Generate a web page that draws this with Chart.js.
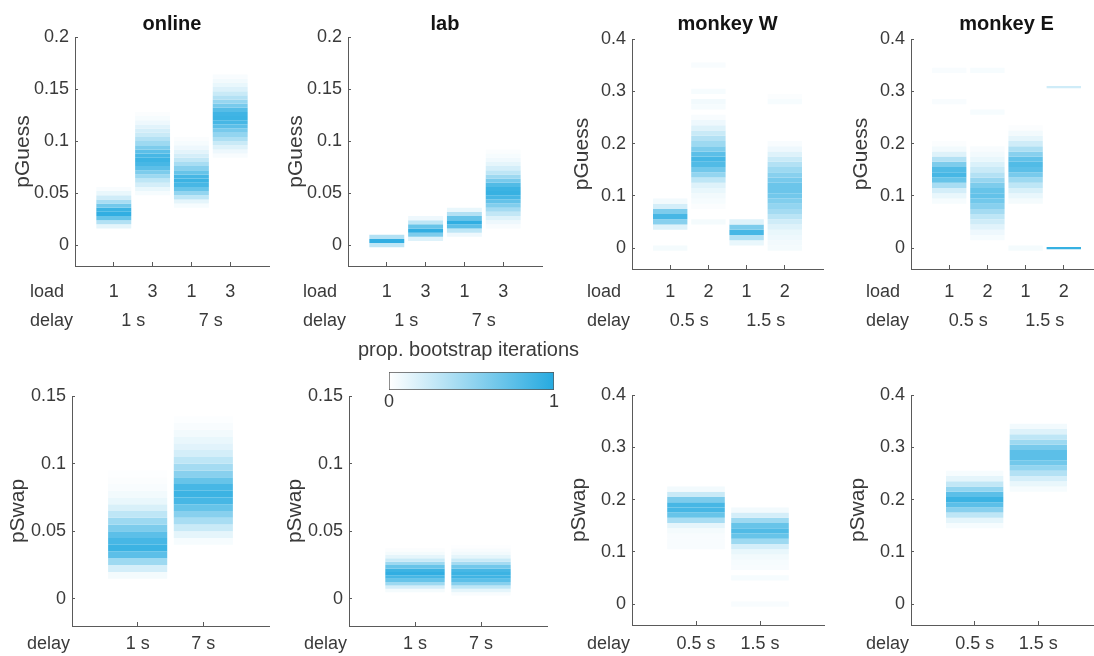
<!DOCTYPE html>
<html>
<head>
<meta charset="utf-8">
<script src="https://cdn.jsdelivr.net/npm/chart.js@4.4.1/dist/chart.umd.min.js"></script>
<style>
  html, body { margin: 0; padding: 0; background: #fff; overflow: hidden; }
  #fig { position: relative; width: 1094px; height: 656px; overflow: hidden; background: #fff; }
  #fig canvas { position: absolute; }
</style>
</head>
<body>
<div id="fig"></div>
<script>
// ---- labels ----
var titles = ["online", "lab", "monkey W", "monkey E"];
var loadsHuman = ["1", "3", "1", "3"];
var loadsMonkey = ["1", "2", "1", "2"];
var delaysHuman = ["1 s", "7 s"];
var delaysMonkey = ["0.5 s", "1.5 s"];

// x positions of the conditions
var guessX = [1, 2, 3, 4];
var guessDelayX = [1.5, 3.5];
var swapX = [1, 2];

// y ticks
var ticksSmall = [0, 0.05, 0.1, 0.15, 0.2];
var ticksSmallLabels = ["0", "0.05", "0.1", "0.15", "0.2"];
var ticksLarge = [0, 0.1, 0.2, 0.3, 0.4];
var ticksLargeLabels = ["0", "0.1", "0.2", "0.3", "0.4"];
var ticksSwap = [0, 0.05, 0.1, 0.15];
var ticksSwapLabels = ["0", "0.05", "0.1", "0.15"];

// ---- bootstrap histograms: bin width, lowest bin edge per condition, proportion per bin ----
var onlineGuessBin = 0.004;
var onlineGuessStart = [0.016, 0.048, 0.036, 0.084];
var onlineGuessDens = [
  [0.12, 0.35, 0.7, 0.95, 0.9, 0.65, 0.4, 0.22, 0.1, 0.03],
  [0.04, 0.1, 0.2, 0.3, 0.45, 0.6, 0.75, 0.85, 0.9, 0.85, 0.75, 0.6, 0.45, 0.35, 0.25, 0.2, 0.14, 0.08, 0.04, 0.02],
  [0.04, 0.12, 0.3, 0.5, 0.7, 0.85, 0.9, 0.85, 0.7, 0.55, 0.4, 0.28, 0.2, 0.13, 0.08, 0.04, 0.02],
  [0.03, 0.08, 0.15, 0.25, 0.38, 0.5, 0.62, 0.75, 0.85, 0.9, 0.88, 0.78, 0.62, 0.48, 0.35, 0.25, 0.16, 0.1, 0.06, 0.03]
];

var labGuessBin = 0.004;
var labGuessStart = [-0.002, 0.004, 0.008, 0.016];
var labGuessDens = [
  [0.3, 0.95, 0.35],
  [0.15, 0.6, 0.95, 0.7, 0.3, 0.08],
  [0.08, 0.3, 0.75, 0.95, 0.7, 0.35, 0.1],
  [0.03, 0.08, 0.15, 0.28, 0.42, 0.58, 0.72, 0.85, 0.92, 0.9, 0.8, 0.62, 0.45, 0.3, 0.2, 0.12, 0.07, 0.04, 0.02]
];

var monkeyWGuessBin = 0.01;
var monkeyWGuessStart = [-0.005, 0.045, 0.005, -0.005];
var monkeyWGuessDens = [
  [0.05, 0, 0, 0, 0.15, 0.55, 0.85, 0.6, 0.2, 0.06],
  [0.05, 0, 0, 0.02, 0.04, 0.06, 0.1, 0.15, 0.3, 0.5, 0.65, 0.8, 0.85, 0.75, 0.6, 0.45, 0.35, 0.25, 0.15, 0.08, 0.03, 0, 0.04, 0.06, 0, 0.04, 0, 0, 0, 0, 0.03],
  [0.1, 0.35, 0.85, 0.6, 0.15],
  [0.05, 0.06, 0.08, 0.1, 0.15, 0.22, 0.32, 0.42, 0.5, 0.58, 0.65, 0.68, 0.68, 0.62, 0.55, 0.45, 0.35, 0.25, 0.15, 0.08, 0.03, 0, 0, 0, 0, 0, 0, 0, 0.04, 0.02]
];

// monkey E, load 2 at 1.5 s is two thin lines (at 0 and near 0.31), kept as separate entries
var monkeyEGuessX = [1, 2, 3, 4, 4];
var monkeyEGuessBin = [0.01, 0.01, 0.01, 0.004, 0.004];
var monkeyEGuessStart = [0.085, 0.015, -0.005, -0.002, 0.306];
var monkeyEGuessDens = [
  [0.04, 0.1, 0.2, 0.4, 0.7, 0.85, 0.8, 0.6, 0.35, 0.15, 0.06, 0.02, 0, 0, 0, 0, 0, 0, 0, 0.03, 0, 0, 0, 0, 0, 0.03],
  [0.04, 0.08, 0.14, 0.22, 0.3, 0.42, 0.55, 0.65, 0.72, 0.7, 0.6, 0.48, 0.35, 0.25, 0.17, 0.1, 0.06, 0.03, 0, 0, 0, 0, 0, 0, 0.04, 0, 0, 0, 0, 0, 0, 0, 0.04],
  [0.05, 0, 0, 0, 0, 0, 0, 0, 0, 0.05, 0.1, 0.18, 0.3, 0.45, 0.62, 0.75, 0.8, 0.72, 0.55, 0.38, 0.22, 0.12, 0.06, 0.02],
  [0.92],
  [0.22]
];

var onlineSwapBin = 0.005;
var onlineSwapStart = [0.015, 0.04];
var onlineSwapDens = [
  [0.05, 0.2, 0.45, 0.75, 0.9, 0.85, 0.75, 0.6, 0.45, 0.3, 0.18, 0.1, 0.06, 0.03, 0.02, 0.01],
  [0.04, 0.12, 0.25, 0.4, 0.55, 0.7, 0.85, 0.9, 0.85, 0.7, 0.55, 0.42, 0.3, 0.2, 0.14, 0.1, 0.06, 0.03, 0.015]
];

var labSwapBin = 0.0025;
var labSwapStart = [0.005, 0.0025];
var labSwapDens = [
  [0.05, 0.2, 0.45, 0.7, 0.85, 0.95, 0.9, 0.7, 0.45, 0.25, 0.12, 0.05, 0.02],
  [0.03, 0.12, 0.3, 0.55, 0.75, 0.88, 0.9, 0.85, 0.65, 0.42, 0.25, 0.12, 0.06, 0.03, 0.01]
];

var monkeyWSwapBin = 0.01;
var monkeyWSwapStart = [0.105, -0.005];
var monkeyWSwapDens = [
  [0.03, 0.03, 0.03, 0.05, 0.12, 0.4, 0.7, 0.85, 0.85, 0.6, 0.25, 0.06],
  [0.03, 0, 0, 0, 0, 0.04, 0, 0.03, 0.04, 0.06, 0.1, 0.2, 0.45, 0.7, 0.8, 0.7, 0.45, 0.2, 0.06]
];

var monkeyESwapBin = 0.01;
var monkeyESwapStart = [0.145, 0.215];
var monkeyESwapDens = [
  [0.04, 0.12, 0.3, 0.55, 0.75, 0.9, 0.75, 0.5, 0.28, 0.12, 0.04],
  [0.04, 0.1, 0.2, 0.35, 0.5, 0.65, 0.75, 0.75, 0.62, 0.45, 0.3, 0.15, 0.06]
];

// ---- styling ----
var FONT = "'Liberation Sans', Arial, Helvetica, sans-serif";
var textColor = "#3a3a3a";
var axisColor = "#5a5a5a";
var blue = [38, 170, 224];

function shade(d) {
  var c = blue.map(function (v) { return Math.round(255 + (v - 255) * d); });
  return "rgb(" + c.join(",") + ")";
}

function histDatasets(xs, bin, starts, dens) {
  return xs.map(function (x, k) {
    var b = Array.isArray(bin) ? bin[k] : bin;
    var pts = [], cols = [];
    dens[k].forEach(function (d, i) {
      if (d <= 0) return;
      var lo = starts[k] + i * b;
      pts.push({ x: x, y: [lo, lo + b] });
      cols.push(shade(d));
    });
    return {
      data: pts,
      backgroundColor: cols,
      borderWidth: 0,
      grouped: false,
      barPercentage: 0.9,
      categoryPercentage: 1
    };
  });
}

// text drawn around each panel: title, y label, x rows
var panelText = {
  id: "panelText",
  afterDraw: function (chart, args, o) {
    var ctx = chart.ctx, a = chart.chartArea, xs = chart.scales.x;
    ctx.save();
    if (o.title) {
      ctx.fillStyle = "#141414";
      ctx.font = "bold 20px " + FONT;
      ctx.textAlign = "center";
      ctx.textBaseline = "alphabetic";
      ctx.fillText(o.title, (a.left + a.right) / 2, o.titleBase);
    }
    ctx.fillStyle = textColor;
    ctx.save();
    ctx.translate(a.left - o.ylabelOff, (a.top + a.bottom) / 2);
    ctx.rotate(-Math.PI / 2);
    ctx.font = "21px " + FONT;
    ctx.textAlign = "center";
    ctx.textBaseline = "middle";
    ctx.fillText(o.ylabel, 0, 0);
    ctx.restore();
    ctx.font = "18px " + FONT;
    ctx.textBaseline = "alphabetic";
    o.rows.forEach(function (r) {
      ctx.textAlign = "left";
      ctx.fillText(r.head, a.left - 45, r.base);
      ctx.textAlign = "center";
      r.pos.forEach(function (v, i) {
        ctx.fillText(r.text[i], xs.getPixelForValue(v), r.base);
      });
    });
    ctx.restore();
  }
};

var fig = document.getElementById("fig");

function makePanel(p) {
  var padL = 75, padR = 6;
  var cv = document.createElement("canvas");
  var w = padL + (p.R - p.L) + padR;
  var h = p.rowH;
  cv.width = w;
  cv.height = h;
  cv.style.left = (p.L - padL) + "px";
  cv.style.top = p.rowTop + "px";
  cv.style.width = w + "px";
  cv.style.height = h + "px";
  fig.appendChild(cv);
  var padT = p.T - p.rowTop;
  var padB = p.rowTop + h - p.B;
  var rows = p.rows.map(function (r) {
    return { head: r.head, pos: r.pos, text: r.text, base: r.base - p.rowTop };
  });
  return new Chart(cv, {
    type: "bar",
    data: { datasets: histDatasets(p.xs, p.bin, p.starts, p.dens) },
    options: {
      responsive: false,
      animation: false,
      events: [],
      layout: { padding: { top: padT, right: padR, left: 0, bottom: 0 } },
      plugins: {
        legend: { display: false },
        tooltip: { enabled: false },
        panelText: {
          title: p.title,
          titleBase: 29.5 - p.rowTop,
          ylabel: p.ylabel,
          ylabelOff: p.ylabelOff,
          rows: rows
        }
      },
      scales: {
        x: {
          type: "linear",
          min: 0,
          max: p.xMax,
          offset: false,
          afterBuildTicks: function (s) { s.ticks = p.xTicks.map(function (v) { return { value: v }; }); },
          afterFit: function (s) { s.height = padB; },
          ticks: { display: false },
          grid: { offset: false, drawOnChartArea: false, tickLength: -4, color: axisColor, lineWidth: 1 },
          border: { color: axisColor, width: 1 }
        },
        y: {
          min: p.yMin,
          max: p.yMax,
          afterBuildTicks: function (s) { s.ticks = p.yTicks.map(function (v) { return { value: v }; }); },
          afterFit: function (s) { s.width = padL; },
          ticks: {
            callback: function (v, i) { return p.yLabels[i]; },
            color: textColor,
            font: { family: FONT, size: 18 },
            padding: 9,
            autoSkip: false
          },
          grid: { drawOnChartArea: false, tickLength: -3, color: axisColor, lineWidth: 1 },
          border: { color: axisColor, width: 1 }
        }
      }
    },
    plugins: [panelText]
  });
}

function topRows(loads, delays) {
  return [
    { head: "load", pos: guessX, text: loads, base: 296.5 },
    { head: "delay", pos: guessDelayX, text: delays, base: 326 }
  ];
}
function bottomRows(delays) {
  return [{ head: "delay", pos: swapX, text: delays, base: 649 }];
}

var TOP = { rowTop: 0, rowH: 336 };
var BOT = { rowTop: 340, rowH: 316 };

var panels = [
  { row: TOP, L: 75, T: 37, R: 269, B: 266, title: titles[0], ylabel: "pGuess", ylabelOff: 52,
    yMin: -0.02, yMax: 0.2, yTicks: ticksSmall, yLabels: ticksSmallLabels, xMax: 5, xTicks: guessX, xs: guessX,
    bin: onlineGuessBin, starts: onlineGuessStart, dens: onlineGuessDens, rows: topRows(loadsHuman, delaysHuman) },
  { row: TOP, L: 348, T: 37, R: 542, B: 266, title: titles[1], ylabel: "pGuess", ylabelOff: 52,
    yMin: -0.02, yMax: 0.2, yTicks: ticksSmall, yLabels: ticksSmallLabels, xMax: 5, xTicks: guessX, xs: guessX,
    bin: labGuessBin, starts: labGuessStart, dens: labGuessDens, rows: topRows(loadsHuman, delaysHuman) },
  { row: TOP, L: 632, T: 39, R: 823, B: 269, title: titles[2], ylabel: "pGuess", ylabelOff: 50,
    yMin: -0.04, yMax: 0.4, yTicks: ticksLarge, yLabels: ticksLargeLabels, xMax: 5, xTicks: guessX, xs: guessX,
    bin: monkeyWGuessBin, starts: monkeyWGuessStart, dens: monkeyWGuessDens, rows: topRows(loadsMonkey, delaysMonkey) },
  { row: TOP, L: 911, T: 39, R: 1102, B: 269, title: titles[3], ylabel: "pGuess", ylabelOff: 50,
    yMin: -0.04, yMax: 0.4, yTicks: ticksLarge, yLabels: ticksLargeLabels, xMax: 5, xTicks: guessX, xs: monkeyEGuessX,
    bin: monkeyEGuessBin, starts: monkeyEGuessStart, dens: monkeyEGuessDens, rows: topRows(loadsMonkey, delaysMonkey) },
  { row: BOT, L: 72, T: 396, R: 269, B: 626, title: null, ylabel: "pSwap", ylabelOff: 54,
    yMin: -0.02, yMax: 0.15, yTicks: ticksSwap, yLabels: ticksSwapLabels, xMax: 3, xTicks: swapX, xs: swapX,
    bin: onlineSwapBin, starts: onlineSwapStart, dens: onlineSwapDens, rows: bottomRows(delaysHuman) },
  { row: BOT, L: 349, T: 396, R: 547, B: 626, title: null, ylabel: "pSwap", ylabelOff: 54,
    yMin: -0.02, yMax: 0.15, yTicks: ticksSwap, yLabels: ticksSwapLabels, xMax: 3, xTicks: swapX, xs: swapX,
    bin: labSwapBin, starts: labSwapStart, dens: labSwapDens, rows: bottomRows(delaysHuman) },
  { row: BOT, L: 632, T: 395, R: 824, B: 625, title: null, ylabel: "pSwap", ylabelOff: 53,
    yMin: -0.04, yMax: 0.4, yTicks: ticksLarge, yLabels: ticksLargeLabels, xMax: 3, xTicks: swapX, xs: swapX,
    bin: monkeyWSwapBin, starts: monkeyWSwapStart, dens: monkeyWSwapDens, rows: bottomRows(delaysMonkey) },
  { row: BOT, L: 911, T: 395, R: 1102, B: 625, title: null, ylabel: "pSwap", ylabelOff: 53,
    yMin: -0.04, yMax: 0.4, yTicks: ticksLarge, yLabels: ticksLargeLabels, xMax: 3, xTicks: swapX, xs: swapX,
    bin: monkeyESwapBin, starts: monkeyESwapStart, dens: monkeyESwapDens, rows: bottomRows(delaysMonkey) }
];

panels.forEach(function (p) {
  p.rowTop = p.row.rowTop;
  p.rowH = p.row.rowH;
  makePanel(p);
});

// ---- colour bar ----
var cbTitle = "prop. bootstrap iterations";
var cbTicks = [0, 1];
var cbTickLabels = ["0", "1"];

var cbText = {
  id: "cbText",
  afterDraw: function (chart) {
    var ctx = chart.ctx, a = chart.chartArea, xs = chart.scales.x;
    ctx.save();
    ctx.fillStyle = textColor;
    ctx.textAlign = "center";
    ctx.textBaseline = "alphabetic";
    ctx.font = "20px " + FONT;
    ctx.fillText(cbTitle, (a.left + a.right) / 2 - 3, 17.5);
    ctx.font = "18px " + FONT;
    cbTicks.forEach(function (v, i) {
      ctx.fillText(cbTickLabels[i], xs.getPixelForValue(v), 68.5);
    });
    ctx.restore();
  }
};

var cb = document.createElement("canvas");
cb.width = 260; cb.height = 78;
cb.style.left = "340px"; cb.style.top = "338px";
cb.style.width = "260px"; cb.style.height = "78px";
fig.appendChild(cb);

new Chart(cb, {
  type: "bar",
  data: {
    labels: [""],
    datasets: [{
      data: [[0, 1]],
      backgroundColor: function (c) {
        var sx = c.chart.scales.x;
        if (!c.chart.chartArea || !sx) return shade(1);
        var g = c.chart.ctx.createLinearGradient(sx.getPixelForValue(0), 0, sx.getPixelForValue(1), 0);
        g.addColorStop(0, shade(0));
        g.addColorStop(1, shade(1));
        return g;
      },
      borderColor: "#555",
      borderWidth: 1,
      borderSkipped: false,
      barPercentage: 1,
      categoryPercentage: 1
    }]
  },
  options: {
    indexAxis: "y",
    responsive: false,
    animation: false,
    events: [],
    layout: { padding: { left: 49, right: 46, top: 34, bottom: 26 } },
    plugins: { legend: { display: false }, tooltip: { enabled: false } },
    scales: {
      x: { type: "linear", min: 0, max: 1, display: false },
      y: { display: false }
    }
  },
  plugins: [cbText]
});
</script>
</body>
</html>
